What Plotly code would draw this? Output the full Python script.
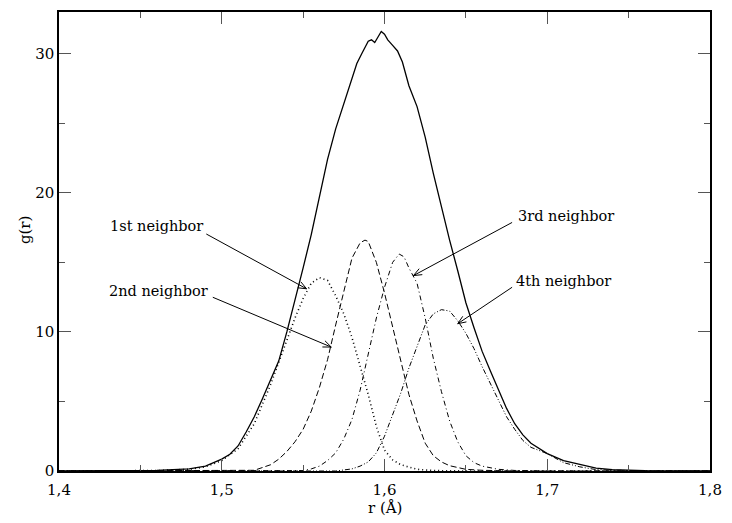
import math
import plotly.graph_objects as go

# Radial distribution g(r): total curve and its four neighbour contributions
r_total = [1.40, 1.44, 1.46, 1.47, 1.48, 1.49, 1.50, 1.505, 1.51, 1.515, 1.52, 1.525, 1.53,
           1.535, 1.54, 1.545, 1.55, 1.555, 1.56, 1.565, 1.57, 1.575, 1.58, 1.583, 1.586,
           1.588, 1.59, 1.592, 1.594, 1.596, 1.598, 1.600, 1.602, 1.605, 1.608, 1.611,
           1.615, 1.62, 1.625, 1.63, 1.635, 1.64, 1.645, 1.65, 1.655, 1.66, 1.665, 1.67,
           1.675, 1.68, 1.685, 1.69, 1.70, 1.71, 1.72, 1.73, 1.74, 1.75, 1.76, 1.78, 1.80]
g_total = [0, 0, 0.05, 0.1, 0.15, 0.35, 0.85, 1.2, 1.8, 2.8, 3.9, 5.2, 6.5,
           7.9, 10.0, 12.2, 14.6, 17.0, 19.7, 22.4, 24.6, 26.4, 28.1, 29.3, 30.0,
           30.5, 30.9, 31.0, 30.8, 31.2, 31.6, 31.4, 31.0, 30.6, 30.2, 29.4,
           27.7, 26.2, 24.0, 21.4, 18.9, 16.6, 14.4, 12.1, 10.3, 8.6, 7.2, 5.9,
           4.5, 3.4, 2.6, 2.0, 1.25, 0.75, 0.45, 0.2, 0.1, 0.05, 0.02, 0, 0]

r_1st = [1.40, 1.44, 1.46, 1.47, 1.48, 1.49, 1.50, 1.51, 1.52, 1.53, 1.54, 1.545, 1.55,
         1.555, 1.56, 1.565, 1.57, 1.575, 1.58, 1.585, 1.59, 1.595, 1.60, 1.605, 1.61,
         1.62, 1.63, 1.65, 1.80]
g_1st = [0, 0, 0.03, 0.08, 0.12, 0.3, 0.75, 1.6, 3.4, 6.2, 9.4, 11.0, 12.4,
         13.5, 13.9, 13.7, 12.6, 11.3, 9.6, 7.5, 5.5, 3.2, 1.5, 0.8, 0.45,
         0.12, 0.03, 0, 0]

r_2nd = [1.40, 1.50, 1.51, 1.52, 1.53, 1.535, 1.54, 1.545, 1.55, 1.555, 1.56, 1.565,
         1.57, 1.575, 1.58, 1.585, 1.588, 1.59, 1.595, 1.60, 1.605, 1.61, 1.615, 1.62,
         1.625, 1.63, 1.635, 1.64, 1.65, 1.66, 1.68, 1.80]
g_2nd = [0, 0, 0.02, 0.05, 0.45, 0.85, 1.4, 2.1, 3.0, 4.3, 6.0, 8.0,
         10.5, 12.8, 15.3, 16.4, 16.6, 16.5, 15.0, 12.8, 10.3, 8.0, 5.5, 3.6,
         2.0, 1.1, 0.65, 0.38, 0.12, 0.05, 0, 0]

r_3rd = [1.40, 1.54, 1.55, 1.555, 1.56, 1.565, 1.57, 1.575, 1.58, 1.585, 1.59, 1.595,
         1.60, 1.605, 1.609, 1.612, 1.615, 1.62, 1.625, 1.63, 1.635, 1.64, 1.645, 1.65,
         1.655, 1.66, 1.67, 1.68, 1.70, 1.80]
g_3rd = [0, 0, 0.03, 0.15, 0.35, 0.75, 1.3, 2.3, 3.7, 5.8, 8.3, 11.0,
         13.2, 15.0, 15.6, 15.4, 14.6, 13.5, 11.0, 8.1, 5.7, 3.6, 2.1, 1.1,
         0.6, 0.35, 0.12, 0.04, 0, 0]

r_4th = [1.40, 1.57, 1.58, 1.585, 1.59, 1.595, 1.60, 1.605, 1.61, 1.615, 1.62, 1.625,
         1.63, 1.635, 1.64, 1.645, 1.65, 1.655, 1.66, 1.665, 1.67, 1.675, 1.68, 1.685,
         1.69, 1.70, 1.71, 1.72, 1.73, 1.74, 1.76, 1.80]
g_4th = [0, 0, 0.15, 0.35, 0.65, 1.3, 2.5, 4.0, 5.6, 7.4, 8.9, 10.5,
         11.3, 11.6, 11.5, 10.8, 9.9, 8.8, 7.5, 6.3, 5.0, 3.9, 3.0, 2.2,
         1.7, 1.25, 0.6, 0.3, 0.1, 0.05, 0, 0]

# Labels: text, text anchor (r, g), arrow tail (r, g), arrow head (r, g), side
labels = [
    ("1st neighbor", (1.4897, 17.63), (1.4905, 17.04), (1.5521, 13.10), "right"),
    ("2nd neighbor", (1.4927, 12.97), (1.4945, 12.49), (1.5673, 8.91), "right"),
    ("3rd neighbor", (1.6806, 18.35), (1.6784, 17.87), (1.6178, 14.05), "left"),
    ("4th neighbor", (1.6794, 13.69), (1.6784, 13.21), (1.6450, 10.59), "left"),
]

X_RANGE = [1.4, 1.8]
Y_RANGE = [0, 33]
W, H = 732, 523
M = dict(l=59, r=13, t=10, b=52)
PW = W - M["l"] - M["r"]
PH = H - M["t"] - M["b"]

FONT = "DejaVu Serif"
FS = 15
FS_LABEL = 14.5


def to_px(x, y):
    px = (x - X_RANGE[0]) / (X_RANGE[1] - X_RANGE[0]) * PW
    py = (y - Y_RANGE[0]) / (Y_RANGE[1] - Y_RANGE[0]) * PH
    return px, py


def to_data(px, py):
    x = X_RANGE[0] + px / PW * (X_RANGE[1] - X_RANGE[0])
    y = Y_RANGE[0] + py / PH * (Y_RANGE[1] - Y_RANGE[0])
    return x, y


def arrow_path(tail, head, length=9.0, half_angle=22.0):
    """Straight line with an open V head, built in data coordinates."""
    tx, ty = to_px(*tail)
    hx, hy = to_px(*head)
    dx, dy = hx - tx, hy - ty
    n = math.hypot(dx, dy)
    ux, uy = dx / n, dy / n
    pts = []
    for s in (1, -1):
        a = math.radians(half_angle) * s
        wx = ux * math.cos(a) - uy * math.sin(a)
        wy = ux * math.sin(a) + uy * math.cos(a)
        pts.append(to_data(hx - length * wx, hy - length * wy))
    (w1x, w1y), (w2x, w2y) = pts
    return (f"M {tail[0]} {tail[1]} L {head[0]} {head[1]} "
            f"M {w1x} {w1y} L {head[0]} {head[1]} L {w2x} {w2y}")


fig = go.Figure()
fig.add_trace(go.Scatter(x=r_total, y=g_total, mode="lines", name="total",
                         line=dict(color="black", width=1.3)))
fig.add_trace(go.Scatter(x=r_1st, y=g_1st, mode="lines", name="1st",
                         line=dict(color="black", width=1.6, dash="1px,3px")))
fig.add_trace(go.Scatter(x=r_2nd, y=g_2nd, mode="lines", name="2nd",
                         line=dict(color="black", width=1, dash="6px,3px")))
fig.add_trace(go.Scatter(x=r_3rd, y=g_3rd, mode="lines", name="3rd",
                         line=dict(color="black", width=1, dash="5px,3px,1px,3px")))
fig.add_trace(go.Scatter(x=r_4th, y=g_4th, mode="lines", name="4th",
                         line=dict(color="black", width=1,
                                   dash="5px,2px,1px,2px,1px,2px")))

for text, (ax_, ay_), tail, head, side in labels:
    fig.add_annotation(x=ax_, y=ay_, xref="x", yref="y", text=text, showarrow=False,
                       xanchor=side, yanchor="middle",
                       font=dict(family=FONT, size=FS_LABEL, color="black"))
    fig.add_shape(type="path", xref="x", yref="y", path=arrow_path(tail, head),
                  line=dict(color="black", width=1))

axis_common = dict(
    showgrid=False, zeroline=False, showline=True, linecolor="black", linewidth=1.5,
    mirror="ticks", ticks="inside", ticklen=12, tickwidth=1, tickcolor="#555",
    tickfont=dict(family=FONT, size=FS, color="black"),
)

fig.update_xaxes(range=X_RANGE, dtick=0.1, tick0=1.4, tickformat=".1f",
                 ticklabelstandoff=4,
                 minor=dict(ticks="inside", ticklen=6, dtick=0.05, tickcolor="#555"),
                 **axis_common)
fig.update_yaxes(range=Y_RANGE, dtick=10, tick0=0,
                 minor=dict(ticks="inside", ticklen=6, dtick=5, tickcolor="#555"),
                 **axis_common)

# Axis titles
fig.add_annotation(x=0.5, y=-0.08, xref="paper", yref="paper", yanchor="middle",
                   text="r (Å)", showarrow=False,
                   font=dict(family=FONT, size=FS, color="black"))
fig.add_annotation(x=-0.069, y=0.525, xref="paper", yref="paper", textangle=-90,
                   text="g(r)", showarrow=False,
                   font=dict(family=FONT, size=FS, color="black"))

fig.update_layout(
    width=W, height=H, margin=M, showlegend=False,
    font=dict(family=FONT, size=FS, color="black"),
    plot_bgcolor="white", paper_bgcolor="white", separators=",.",
)

fig.write_html("out.html")
